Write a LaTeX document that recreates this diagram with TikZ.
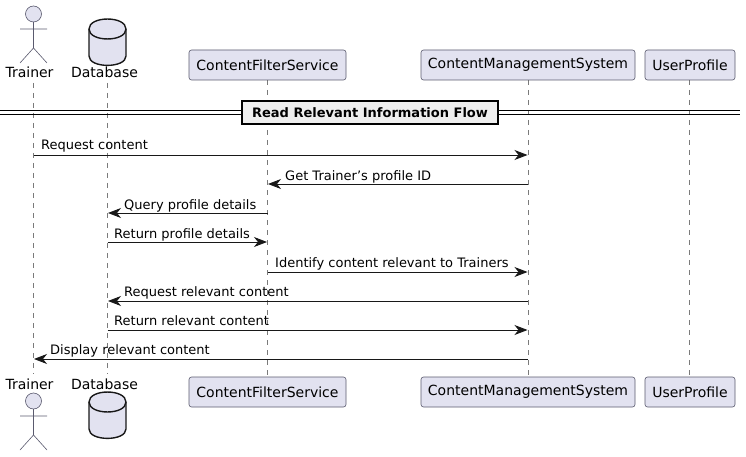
\documentclass[tikz,border=0pt]{standalone}
\usepackage{fontspec}
\setmainfont{DejaVu Sans}
\usetikzlibrary{arrows.meta,shapes.geometric}
\definecolor{partfill}{HTML}{E2E2F0}
\definecolor{partline}{HTML}{5A5A6E}
\definecolor{lifegray}{HTML}{7A7A7A}
\definecolor{dividerfill}{HTML}{EEEEEE}
\definecolor{inkdark}{HTML}{181818}
\tikzset{
  x=1pt,y=-1pt,
  partbox/.style={draw=partline,fill=partfill,rounded corners=2.5pt,line width=0.6pt,minimum height=30pt,inner sep=0pt,anchor=center,font=\fontsize{14}{16}\selectfont,text=black},
  lifeline/.style={draw=lifegray,line width=0.6pt,dash pattern=on 5pt off 5pt},
  msgline/.style={draw=inkdark,line width=0.9pt,-{Stealth[length=13pt,width=10pt,inset=4pt]},shorten >=0.5pt},
  msglabel/.style={inner sep=0pt,anchor=base west,font=\fontsize{13}{15}\selectfont,text=black},
  actorlabel/.style={inner sep=0pt,anchor=base,font=\fontsize{14}{16}\selectfont,text=black},
  actorline/.style={draw=partline,line width=0.6pt},
  dbshape/.style={draw=inkdark,fill=partfill,line width=1.4pt},
  divline/.style={draw=black,line width=1pt},
  divbox/.style={draw=black,fill=dividerfill,line width=1.5pt,minimum width=256pt,minimum height=23pt,inner sep=0pt,font=\fontsize{13}{15}\selectfont\bfseries,text=black}
}
\newcommand{\actorfig}[2]{% x, head centre y
  \draw[actorline,fill=partfill] (#1,#2) circle (8);
  \draw[actorline] (#1,#2+8) -- (#1,#2+34) (#1-13.5,#2+15) -- (#1+13.5,#2+15)
    (#1-13.5,#2+49) -- (#1,#2+34) -- (#1+13.5,#2+49);
}
\newcommand{\dbfig}[2]{% x, top y
  \draw[dbshape] (#1-18.5,#2+10) .. controls (#1-18.5,#2-3.3) and (#1+18.5,#2-3.3) .. (#1+18.5,#2+10)
    -- (#1+18.5,#2+37) .. controls (#1+18.5,#2+49.5) and (#1-18.5,#2+49.5) .. (#1-18.5,#2+37) -- cycle;
  \draw[dbshape,fill=none] (#1-18.5,#2+10) .. controls (#1-18.5,#2+23.3) and (#1+18.5,#2+23.3) .. (#1+18.5,#2+10);
}
\begin{document}
\begin{tikzpicture}
\useasboundingbox (0,0) rectangle (746,457);
% lifeline anchors
\coordinate (trT) at (33.5,83);   \coordinate (trB) at (33.5,374);
\coordinate (dbT) at (107.5,83);  \coordinate (dbB) at (107.5,374);
\coordinate (cfT) at (267.5,80);  \coordinate (cfB) at (267.5,377);
\coordinate (cmT) at (528,80);    \coordinate (cmB) at (528,377);
\coordinate (upT) at (689.5,80);  \coordinate (upB) at (689.5,377);
\foreach \a/\b in {trT/trB,dbT/dbB,cfT/cfB,cmT/cmB,upT/upB} \draw[lifeline] (\a) -- (\b);
% participants
\node[partbox,minimum width=157pt] (cfTop) at (267.5,65) {ContentFilterService};
\node[partbox,minimum width=214pt] (cmTop) at (528,65) {ContentManagementSystem};
\node[partbox,minimum width=90pt] (upTop) at (690,65) {UserProfile};
\node[partbox,minimum width=157pt] (cfBot) at (267.5,392) {ContentFilterService};
\node[partbox,minimum width=214pt] (cmBot) at (528,392) {ContentManagementSystem};
\node[partbox,minimum width=90pt] (upBot) at (690,392) {UserProfile};
% actors and databases
\actorfig{33.5}{14}
\node[actorlabel] (trTopL) at (29.5,78) {Trainer};
\dbfig{107.5}{19}
\node[actorlabel] (dbTopL) at (104.5,78) {Database};
\actorfig{33.5}{401}
\node[actorlabel] (trBotL) at (29.5,389) {Trainer};
\dbfig{107.5}{392}
\node[actorlabel] (dbBotL) at (104.5,389) {Database};
% divider
\coordinate (dvL) at (0,111); \coordinate (dvR) at (740,111);
\coordinate (dvL2) at (0,114.5); \coordinate (dvR2) at (740,114.5);
\draw[divline] (dvL) -- (dvR);
\draw[divline] (dvL2) -- (dvR2);
\node[divbox] (dv) at (370,112.5) {Read Relevant Information Flow\hspace{6pt}};
% messages
\foreach \s/\t/\yy in {trT/cmT/155,cmT/cfT/184,cfT/dbT/213,dbT/cfT/242,cfT/cmT/272,cmT/dbT/301,dbT/cmT/330,cmT/trT/359}
  \draw[msgline] (\s |- 0,\yy) -- (\t |- 0,\yy);
\node[msglabel] (m1) at (41,150) {Request content};
\node[msglabel] (m2) at (285,180) {Get Trainer\symbol{39}s profile ID};
\node[msglabel] (m3) at (124,209) {Query profile details};
\node[msglabel] (m4) at (114,238) {Return profile details};
\node[msglabel] (m5) at (275,267) {Identify content relevant to Trainers};
\node[msglabel] (m6) at (124,296) {Request relevant content};
\node[msglabel] (m7) at (114,325) {Return relevant content};
\node[msglabel] (m8) at (50,354) {Display relevant content};
\end{tikzpicture}
\end{document}
